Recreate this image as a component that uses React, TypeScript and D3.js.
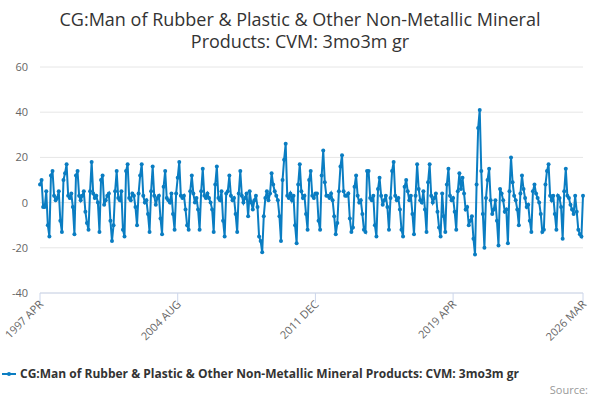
import React, { useRef, useEffect } from 'react';
import * as d3 from 'd3';

const title = ['CG:Man of Rubber & Plastic & Other Non-Metallic Mineral', 'Products: CVM: 3mo3m gr'];
const seriesName = 'CG:Man of Rubber & Plastic & Other Non-Metallic Mineral Products: CVM: 3mo3m gr';
const tickLabels = ['1997 APR', '2004 AUG', '2011 DEC', '2019 APR', '2026 MAR'];
const tickIndex = [0, 88, 176, 264, 347];
const yTicks = [-40, -20, 0, 20, 40, 60];

// monthly values, 1997 APR .. 2026 MAR
const values: number[] = [
  8, 10, -2, -2, 5, -10, -15, 12, 14, 3, 1, 2,
  5, -8, -13, 10, 13, 17, 3, 2, 4, -2, -14, 12,
  14, 3, 1, 3, 5, -4, -9, -12, 5, 18, 4, 2,
  3, 0, -13, 10, 12, -1, 1, 3, 4, -8, -17, -10,
  5, 14, 2, 1, 5, -12, -15, 14, 17, 2, 1, 4,
  3, -2, -10, 4, 12, 17, 3, 0, 1, -5, -13, 5,
  16, 3, -1, 2, 3, -7, -14, 7, 14, 2, 1, 0,
  4, -5, -12, 4, 11, 18, 3, 2, 3, -3, -10, -12,
  5, 12, 4, 0, 2, -3, -12, 5, 15, 3, 2, 4,
  2, 0, -3, -13, 8, 16, 2, 1, 5, -8, -15, 4,
  5, 12, 3, 1, 2, -5, -13, 4, 14, 3, 0, 2, 4, -6,
  5, 0, -3, 1, 3, -2, -15, -17, -22,
  -6, 2, 5, 1,
  4, 13, 8, 5, 3, 1, -6, -17, 10, 19, 26,
  3, 2, 4, 1, 3, -10, -18, 8, 17, 5, 2, 3, -5, -12, 10, 14,
  3, 2, 4, 4, -8, -12, 12, 23,
  9, 3, 3, 2, 4, 1, -6, -14, -9, 5, 16, 21,
  5, 3, 3,
  4, -7, -13, -11, 7, 12, 3, 0, 1, -5, -12, -13,
  14, 14, 2, 1, 3, -10, -15, 6, 11, 3, -1, 1,
  3, -2, -12, 2, 14, 18, 3, 1, 2, -3, -12, -15,
  7, 10, 5, 1, 3, -5, -14, 3, 17, 6, 1, 0,
  5, -3, -13, 9, 17, 3, 0, 2, 4, -4, -11, -15,
  4, -6, -13, 8, 15, 3, 1, 2, -4, -12, 5, 13,
  6, 11, 4, -3, -2, -10, -8, -6, -16, -23,
  8, 33, 41,
  14, -5, -20, 2, 10, 15, 1, -5, -3, 1, -8, -19,
  6, 4, 1, -4, -3, -18, 5, 20, 9, 3, 1, -3,
  -10, 4, 12, 6, 2, -2, -1, -8, -13, 5, 8, 4,
  2, 0, -5, -13, -12, 8, 14, 17, 3, 1, 3, -5,
  -12, 3, 2, -2, -16, 5, 15, 3, 2, -1, -3, -5,
  3, -4, -12, -14, -15, 3,
];

const App: React.FC = () => {
  const svgRef = useRef<SVGSVGElement | null>(null);

  useEffect(() => {
    const svg = d3.select(svgRef.current);
    svg.selectAll('*').remove();
    const W = 600, H = 400;
    const margin = { top: 67, right: 17, bottom: 107, left: 40 };
    const width = W - margin.left - margin.right;
    const height = H - margin.top - margin.bottom;
    const font = "'Open Sans', 'DejaVu Sans', sans-serif";

    const x = d3.scaleLinear().domain([0, values.length - 1]).range([0, width]);
    const y = d3.scaleLinear().domain([-40, 60]).range([height, 0]);

    svg.selectAll('text.title').data(title).enter().append('text')
      .attr('x', W / 2).attr('y', (_, i) => 26 + i * 22)
      .attr('text-anchor', 'middle').style('font-family', font)
      .style('font-size', '18px').style('fill', '#333').text(d => d);

    const g = svg.append('g').attr('transform', `translate(${margin.left},${margin.top})`);

    g.selectAll('line.grid').data(yTicks).enter().append('line')
      .attr('x1', 0).attr('x2', width)
      .attr('y1', d => y(d)).attr('y2', d => y(d))
      .attr('stroke', '#e6e6e6').attr('stroke-width', 1);

    g.selectAll('text.ytick').data(yTicks).enter().append('text')
      .attr('x', -12).attr('y', d => y(d) + 4).attr('text-anchor', 'end')
      .style('font-family', font).style('font-size', '11px').style('fill', '#666')
      .text(d => d);

    g.append('line').attr('x1', 0).attr('x2', width).attr('y1', height).attr('y2', height)
      .attr('stroke', '#ccd6eb');

    tickIndex.forEach((ti, i) => {
      const tx = x(ti);
      g.append('line').attr('x1', tx).attr('x2', tx).attr('y1', height).attr('y2', height + 10)
        .attr('stroke', '#ccd6eb');
      g.append('text')
        .attr('transform', `translate(${tx + 4},${height + 12}) rotate(-45)`)
        .attr('text-anchor', 'end')
        .style('font-family', font).style('font-size', '11px').style('fill', '#666')
        .text(tickLabels[i]);
    });

    const line = d3.line<number>().x((_, i) => x(i)).y(d => y(d));
    g.append('path').datum(values).attr('d', line)
      .attr('fill', 'none').attr('stroke', '#0a7dc2').attr('stroke-width', 2);
    g.selectAll('circle').data(values).enter().append('circle')
      .attr('cx', (_, i) => x(i)).attr('cy', d => y(d)).attr('r', 2)
      .attr('fill', '#0a7dc2');

    const ly = 374;
    svg.append('line').attr('x1', 2).attr('x2', 16).attr('y1', ly).attr('y2', ly)
      .attr('stroke', '#0a7dc2').attr('stroke-width', 2);
    svg.append('circle').attr('cx', 9).attr('cy', ly).attr('r', 2).attr('fill', '#0a7dc2');
    svg.append('text').attr('x', 20).attr('y', ly + 4)
      .style('font-family', font).style('font-size', '12px').style('font-weight', 'bold')
      .style('fill', '#333').text(seriesName);
    svg.append('text').attr('x', 588).attr('y', 394).attr('text-anchor', 'end')
      .style('font-family', font).style('font-size', '11px').style('fill', '#999')
      .text('Source:');
  }, []);

  return (
    <svg ref={svgRef} width={600} height={400}
      style={{ position: 'absolute', left: 0, top: 0, background: '#fff' }} />
  );
};

export default App;
